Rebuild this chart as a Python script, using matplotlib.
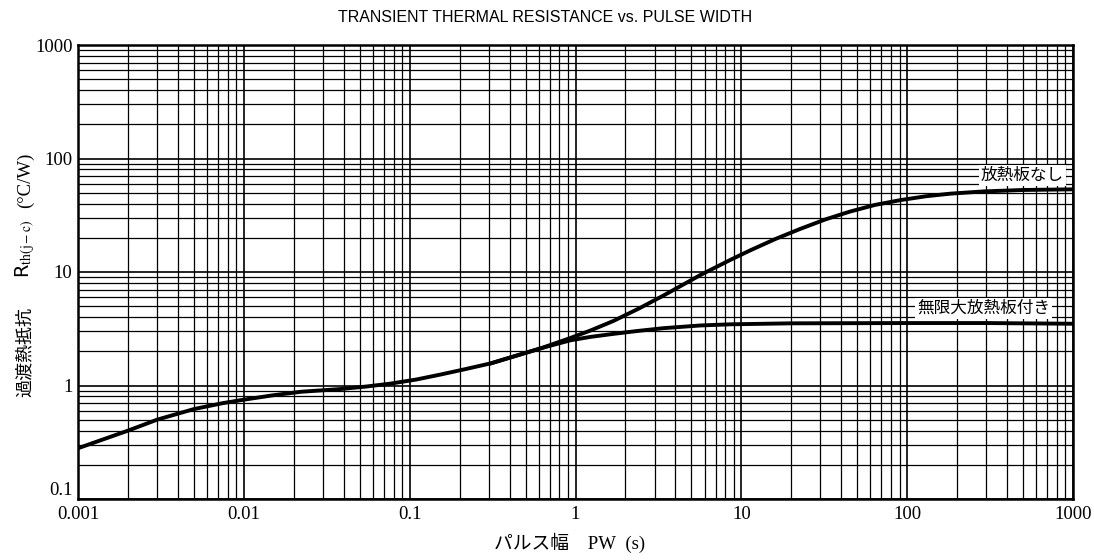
import matplotlib
matplotlib.use('Agg')
import matplotlib.pyplot as plt
from matplotlib.ticker import LogLocator, NullFormatter, FixedLocator

plt.rcParams['mathtext.fontset'] = 'stix'

# pulse width (s) and transient thermal resistance (C/W)
pw_common = [0.001, 0.0015, 0.002, 0.003, 0.005, 0.0075, 0.01, 0.015, 0.022,
             0.038, 0.055, 0.077, 0.11, 0.154, 0.21, 0.31, 0.45, 0.62]
rth_common = [0.28, 0.345, 0.40, 0.50, 0.62, 0.70, 0.75, 0.82, 0.88,
              0.93, 0.98, 1.04, 1.13, 1.25, 1.38, 1.57, 1.85, 2.13]

# no heat sink
pw_free = [0.93, 1.23, 1.69, 2.4, 3.39, 5.66, 8.6, 11.3, 16, 22.7, 32, 45, 64, 91,
           130, 182, 290, 500, 1000]
rth_free = [2.62, 3.05, 3.7, 4.75, 6.2, 9.4, 12.8, 15.5, 19.5, 24, 29, 34, 39, 43,
            46.5, 49, 51.3, 52.8, 53.5]

# infinite heat sink
pw_sink = [0.93, 1.23, 1.69, 2.4, 3.39, 5.66, 8.6, 20, 100, 300, 1000]
rth_sink = [2.5, 2.68, 2.85, 3.03, 3.2, 3.38, 3.46, 3.53, 3.55, 3.55, 3.5]

x_ticks = [0.001, 0.01, 0.1, 1, 10, 100, 1000]
x_ticklabels = ['0.001', '0.01', '0.1', '1', '10', '100', '1000']
y_ticks = [0.1, 1, 10, 100, 1000]
y_ticklabels = ['0.1', '1', '10', '100', '1000']

title = 'TRANSIENT THERMAL RESISTANCE vs. PULSE WIDTH'
xlabel = 'パルス幅\u3000PW\u2002(s)'
ylabel_jp = '過渡熱抵抗'
ylabel_sym = 'R$_{\\mathrm{th(j-c)}}$'
ylabel_unit = '(°C/W)'
label_free = '放熱板なし'
label_sink = '無限大放熱板付き'

serif_jp = ['Liberation Serif', 'Noto Sans CJK JP']
W, H = 1094, 560

fig = plt.figure(figsize=(10.94, 5.6), dpi=100)
ax = fig.add_axes([78/W, 1-499/H, (1073-78)/W, (499-45)/H])

ax.set_xscale('log')
ax.set_yscale('log')
ax.set_xlim(0.001, 1000)
ax.set_ylim(0.1, 1000)

ax.xaxis.set_major_locator(FixedLocator(x_ticks))
ax.yaxis.set_major_locator(FixedLocator(y_ticks))
ax.xaxis.set_minor_locator(LogLocator(base=10, subs=range(2, 10), numticks=20))
ax.yaxis.set_minor_locator(LogLocator(base=10, subs=range(2, 10), numticks=20))
ax.xaxis.set_minor_formatter(NullFormatter())
ax.yaxis.set_minor_formatter(NullFormatter())
ax.set_xticklabels(x_ticklabels, family='Liberation Serif', fontsize=13.5)
ax.set_yticklabels(y_ticklabels, family='Liberation Serif', fontsize=13.5)
ax.tick_params(axis='x', which='both', length=0, pad=5)
ax.tick_params(axis='y', which='both', length=0, pad=4)
# 0.1 sits a bit above the corner in the original
ax.get_yticklabels()[0].set_verticalalignment('bottom')

ax.grid(True, which='major', color='black', lw=1.2)
ax.grid(True, which='minor', color='black', lw=0.9)
ax.set_axisbelow(True)
for sp in ax.spines.values():
    sp.set_linewidth(1.8)

ax.plot(pw_common + pw_free, rth_common + rth_free, color='black', lw=2.8,
        solid_joinstyle='round')
ax.plot(pw_common[-3:] + pw_sink, rth_common[-3:] + rth_sink, color='black', lw=2.8,
        solid_joinstyle='round')

bbox = dict(facecolor='white', edgecolor='none', pad=1.5)
ax.text(0.991, 1-(175-45)/454, label_free, transform=ax.transAxes, ha='right', va='center',
        family='Noto Sans CJK JP', fontsize=12, bbox=bbox)
ax.text(0.977, 1-(308-45)/454, label_sink, transform=ax.transAxes, ha='right', va='center',
        family='Noto Sans CJK JP', fontsize=12, bbox=bbox)

fig.text(545/W, 1-17/H, title, ha='center', va='center', family='Liberation Sans', fontsize=11.5)
fig.text(570/W, 1-543/H, xlabel, ha='center', va='center', family=serif_jp, fontsize=13.5)

# y label in three pieces (CJK, math subscript, unit)
fig.text(25/W, 1-352/H, ylabel_jp, ha='center', va='center', rotation=90,
         family='Noto Sans CJK JP', fontsize=13)
fig.text(25/W, 1-249/H, ylabel_sym, ha='center', va='center', rotation=90, fontsize=14)
fig.text(25/W, 1-180/H, ylabel_unit, ha='center', va='center', rotation=90,
         family='Liberation Serif', fontsize=13.5)

fig.savefig('out.png', dpi=100)
